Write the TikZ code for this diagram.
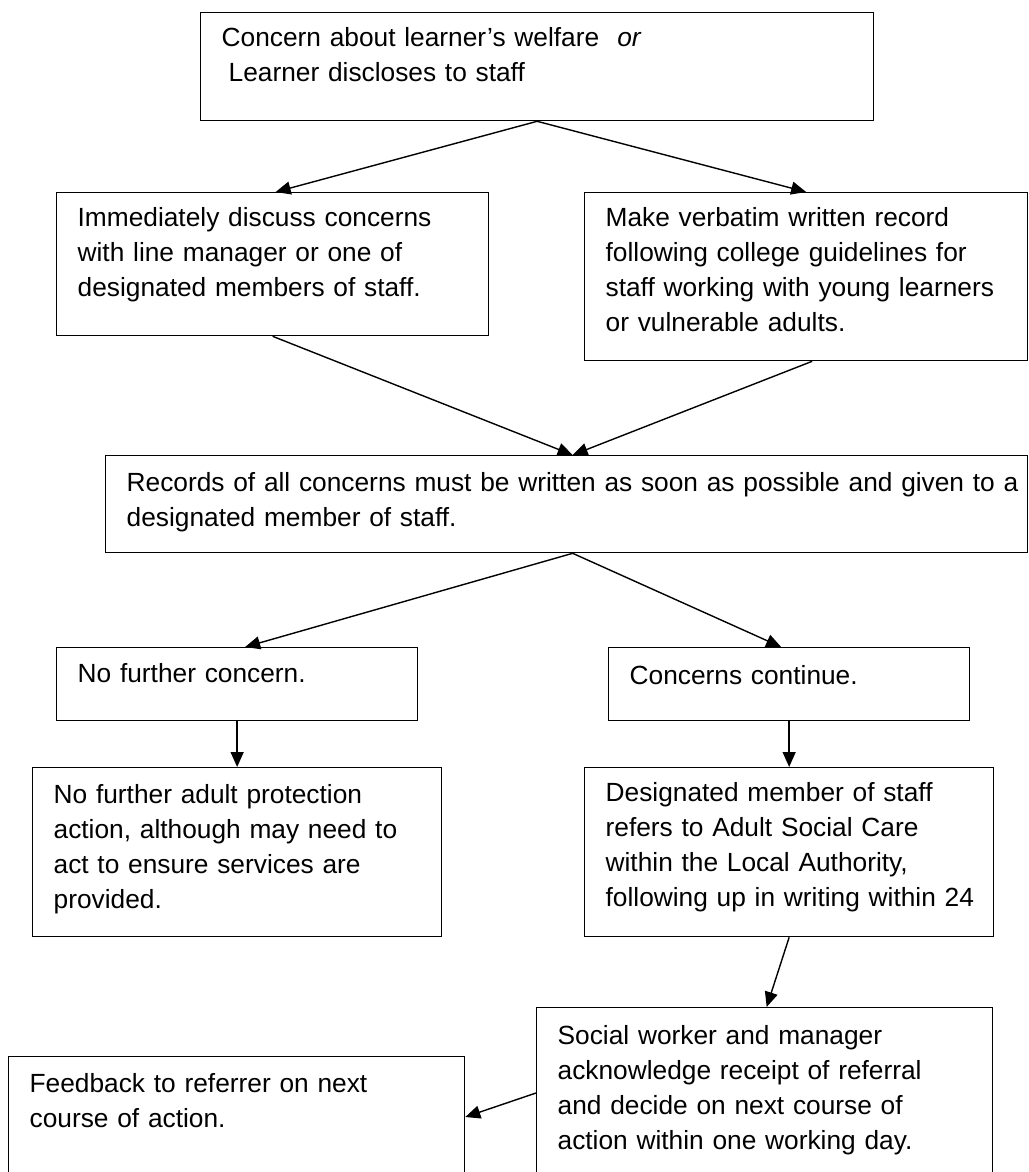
\documentclass[tikz,border=0pt]{standalone}
\usepackage{fontspec}
\setmainfont{Liberation Sans}
\usetikzlibrary{arrows.meta,calc}

\begin{document}
\begin{tikzpicture}[x=1pt,y=-1pt]
\tikzset{el/.style={draw, rectangle, line width=1.3pt, anchor=north west, align=left,
  inner xsep=21pt, inner ysep=0pt, text height=34pt, font=\fontsize{26.3}{35}\selectfont},
  flow/.style={-{Triangle[length=15pt,width=13pt]}, line width=1.4pt}}

\path[fill=white] (0,0) rectangle (1028,1172);
\clip (0,0) rectangle (1028,1172);

% Starting point
\node[el, text width=631pt, text depth=74pt] (concern) at (200,12)
{Concern about learner’s welfare\hspace{18pt}\textit{or}\\\hspace*{7pt}Learner discloses to staff};

% First actions
\node[el, text width=390pt, text depth=109pt] (discuss) at (56,192)
{Immediately discuss concerns\\with line manager or one of\\designated members of staff.};
\node[el, text width=401pt, text depth=134pt] (verbatim) at (584,192)
{Make verbatim written record\\following college guidelines for\\\mbox{staff working with young learners}\\or vulnerable adults.};

% Records
\node[el, text width=880pt, text height=36pt, text depth=61pt] (records) at (105,455)
{\mbox{Records of all concerns must be written as soon as possible and given to a}\\designated member of staff.};

% Outcomes
\node[el, text width=319pt, text height=35pt, text depth=38pt] (nofurther) at (56,647)
{No further concern.};
\node[el, text width=319pt, text height=37pt, text depth=36pt] (continue) at (608,647)
{Concerns continue.};

\node[el, text width=367pt, text height=36pt, text depth=133pt] (noaction) at (32,767)
{No further adult protection\\action, although may need to\\act to ensure services are\\provided.};
\node[el, text width=367pt, text depth=135pt] (refers) at (584,767)
{Designated member of staff\\refers to Adult Social Care\\within the Local Authority,\\\mbox{following up in writing within 24}};

\node[el, text width=414pt, text height=37pt, text depth=143pt] (social) at (536,1007)
{Social worker and manager\\acknowledge receipt of referral\\and decide on next course of\\action within one working day.};
\node[el, text width=414pt, text height=36pt, text depth=130pt] (feedback) at (8,1056)
{Feedback to referrer on next\\course of action.};

% Connections
\coordinate (recin) at ([xshift=6pt]records.north);
\coordinate (recout) at ([xshift=6pt]records.south);

\draw[flow] (concern.south) -- ([xshift=3pt]discuss.north);
\draw[flow] (concern.south) -- (verbatim.north);
\draw[flow] (discuss.south) -- (recin);
\draw[flow] ([xshift=6pt]verbatim.south) -- (recin);
\draw[flow] (recout) -- ([xshift=8pt]nofurther.north);
\draw[flow] (recout) -- ([xshift=-8pt]continue.north);
\draw[flow] (nofurther) -- (noaction);
\draw[flow] (continue) -- (refers);
\draw[flow] (refers.south) -- ([xshift=2pt]social.north);
\draw[flow] ([yshift=-86pt]social.north west) -- ([yshift=-61pt]feedback.north east);

\end{tikzpicture}
\end{document}
